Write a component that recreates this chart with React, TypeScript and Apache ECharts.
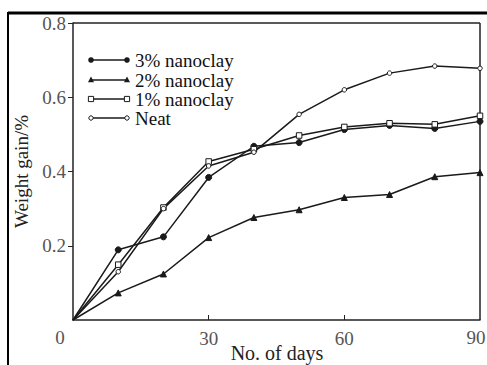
import React, { useEffect, useRef } from "react";
import * as echarts from "echarts";

const days = [0, 10, 20, 30, 40, 50, 60, 70, 80, 90];
const seriesNames = ["3% nanoclay", "2% nanoclay", "1% nanoclay", "Neat"];
const nano3 = [0, 0.189, 0.224, 0.384, 0.468, 0.478, 0.513, 0.524, 0.516, 0.535];
const nano2 = [0, 0.073, 0.124, 0.222, 0.276, 0.297, 0.33, 0.338, 0.386, 0.397];
const nano1 = [0, 0.149, 0.303, 0.427, 0.46, 0.497, 0.52, 0.53, 0.527, 0.55];
const neat = [0, 0.13, 0.3, 0.415, 0.452, 0.554, 0.62, 0.665, 0.684, 0.678];
const xTicks = [0, 30, 60, 90];
const yTicks = [0, 0.2, 0.4, 0.6, 0.8];
const xAxisTitle = "No. of days";
const yAxisTitle = "Weight gain/%";

const FONT = "'Liberation Serif', 'DejaVu Serif', serif";
const INK = "#1a1a1a";

export default function App() {
  const ref = useRef<HTMLDivElement>(null);
  useEffect(() => {
    if (!ref.current) return;
    const chart = echarts.init(ref.current, undefined, { renderer: "svg" });
    const allData = [nano3, nano2, nano1, neat];
    const symbols = ["circle", "triangle", "rect", "circle"];
    const sizes = [6, 6, 5.5, 4.5];
    const fills = [INK, INK, "#fff", "#fff"];
    const series = allData.map((vals, i) => ({
      name: seriesNames[i],
      type: "line",
      data: days.map((d, j) =>
        j === 0 ? { value: [d, vals[j]], symbol: "none" } : { value: [d, vals[j]] }
      ),
      symbol: symbols[i],
      symbolSize: sizes[i],
      showAllSymbol: true,
      lineStyle: { color: INK, width: 1.5 },
      itemStyle: { color: fills[i], borderColor: INK, borderWidth: 1 },
    }));

    const legendGraphics: any[] = [];
    const rowY = [60, 80, 99, 118];
    const x1 = 91, x2 = 127;
    seriesNames.forEach((name, i) => {
      const y = rowY[i];
      legendGraphics.push({
        type: "line",
        shape: { x1, y1: y, x2, y2: y },
        style: { stroke: INK, lineWidth: 1.5 },
      });
      [x1, x2].forEach((x) => {
        if (i === 0) {
          legendGraphics.push({ type: "circle", shape: { cx: x, cy: y, r: 2.8 }, style: { fill: INK } });
        } else if (i === 1) {
          legendGraphics.push({
            type: "polygon",
            shape: { points: [[x, y - 3.5], [x - 3, y + 2.2], [x + 3, y + 2.2]] },
            style: { fill: INK },
          });
        } else if (i === 2) {
          legendGraphics.push({
            type: "rect",
            shape: { x: x - 2.6, y: y - 2.6, width: 5.2, height: 5.2 },
            style: { fill: "#fff", stroke: INK, lineWidth: 1 },
          });
        } else {
          legendGraphics.push({
            type: "circle",
            shape: { cx: x, cy: y, r: 2.2 },
            style: { fill: "#fff", stroke: INK, lineWidth: 1 },
          });
        }
      });
      legendGraphics.push({
        type: "text",
        x: 135,
        y: y,
        style: {
          text: name,
          font: `19px ${FONT}`,
          lineHeight: 17,
          fill: "#111",
          verticalAlign: "middle",
          align: "left",
        },
      });
    });

    chart.setOption({
      animation: false,
      backgroundColor: "#fff",
      grid: { left: 73, right: 7, top: 23, bottom: 45, outerBoundsMode: "none", containLabel: false },
      xAxis: {
        type: "value",
        min: xTicks[0],
        max: xTicks[xTicks.length - 1],
        interval: 30,
        axisLine: { show: true, onZero: false, lineStyle: { color: "#222", width: 1.5 } },
        axisTick: { show: true, inside: true, length: 5, lineStyle: { color: "#222" } },
        axisLabel: {
          showMinLabel: false,
          showMaxLabel: false,
          margin: 9,
          fontFamily: FONT,
          fontSize: 19,
          color: "#555",
          formatter: (v: number) => String(v),
        },
        splitLine: { show: false },
      },
      yAxis: {
        type: "value",
        min: yTicks[0],
        max: yTicks[yTicks.length - 1],
        interval: 0.2,
        name: yAxisTitle,
        nameLocation: "middle",
        nameGap: 41,
        nameTextStyle: { fontFamily: FONT, fontSize: 19, color: "#222" },
        axisLine: { show: true, lineStyle: { color: "#222", width: 1.5 } },
        axisTick: { show: true, inside: false, length: 5, lineStyle: { color: "#222" } },
        axisLabel: {
          showMinLabel: false,
          margin: 7,
          fontFamily: FONT,
          fontSize: 19,
          color: "#555",
          formatter: (v: number) => v.toFixed(1),
        },
        splitLine: { show: false },
      },
      graphic: [
        { type: "line", shape: { x1: 73, y1: 23, x2: 480, y2: 23 }, style: { stroke: "#222", lineWidth: 1.5 } },
        { type: "line", shape: { x1: 480, y1: 23, x2: 480, y2: 320 }, style: { stroke: "#222", lineWidth: 1.5 } },
        { type: "line", shape: { x1: 8, y1: 13, x2: 487, y2: 13 }, style: { stroke: "#000", lineWidth: 3 } },
        { type: "line", shape: { x1: 8, y1: 12, x2: 8, y2: 365 }, style: { stroke: "#000", lineWidth: 2 } },
        {
          type: "text",
          x: 60,
          y: 337,
          style: { text: String(xTicks[0]), font: `19px ${FONT}`, fill: "#555", align: "center", verticalAlign: "middle" },
        },
        {
          type: "text",
          x: 476,
          y: 337,
          style: { text: String(xTicks[3]), font: `19px ${FONT}`, fill: "#555", align: "center", verticalAlign: "middle" },
        },
        {
          type: "text",
          x: 277,
          y: 353,
          style: { text: xAxisTitle, font: `20px ${FONT}`, lineHeight: 18, fill: "#222", align: "center", verticalAlign: "middle" },
        },
        ...legendGraphics,
      ],
      series,
    });
    return () => chart.dispose();
  }, []);
  return <div ref={ref} style={{ width: 487, height: 365, position: "absolute", left: 0, top: 0 }} />;
}
